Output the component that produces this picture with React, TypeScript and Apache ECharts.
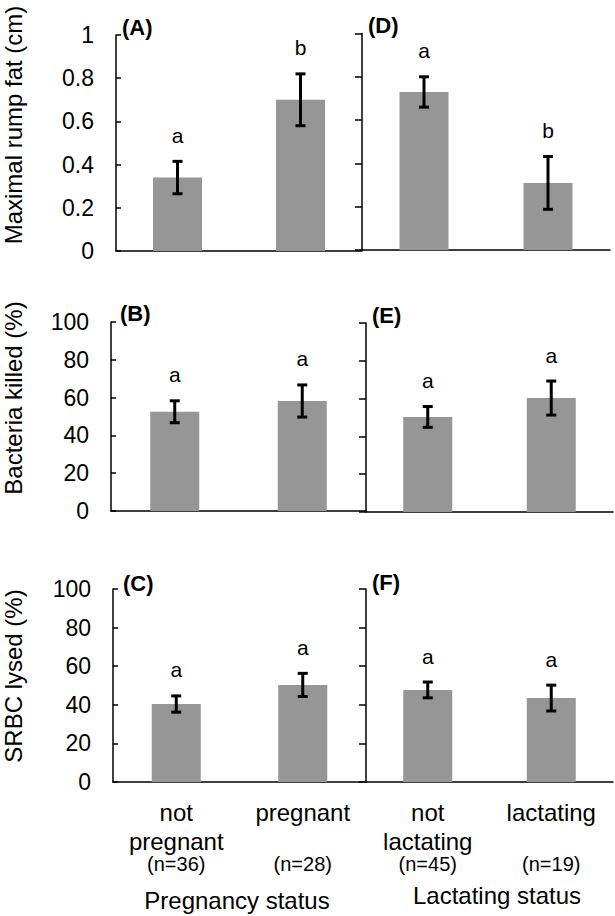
import React, { useEffect, useRef } from "react";
import * as echarts from "echarts";

const FONT = "'Liberation Sans', Arial, Helvetica, sans-serif";

const pregCats = ["not\npregnant", "pregnant"];
const pregN = ["(n=36)", "(n=28)"];
const lactCats = ["not\nlactating", "lactating"];
const lactN = ["(n=45)", "(n=19)"];

// Panel A: maximal rump fat by pregnancy
const fatPregMean = [0.34, 0.70];
const fatPregSE = [0.075, 0.12];
const fatPregLetters = ["a", "b"];
// Panel D: maximal rump fat by lactation
const fatLactMean = [0.73, 0.31];
const fatLactSE = [0.07, 0.122];
const fatLactLetters = ["a", "b"];
// Panel B: bacteria killed by pregnancy
const bactPregMean = [52.5, 58.2];
const bactPregSE = [5.8, 8.5];
const bactPregLetters = ["a", "a"];
// Panel E: bacteria killed by lactation
const bactLactMean = [50.3, 60.3];
const bactLactSE = [5.5, 9.0];
const bactLactLetters = ["a", "a"];
// Panel C: SRBC lysed by pregnancy
const srbcPregMean = [40.4, 50.3];
const srbcPregSE = [4.2, 6.0];
const srbcPregLetters = ["a", "a"];
// Panel F: SRBC lysed by lactation
const srbcLactMean = [47.7, 43.5];
const srbcLactSE = [4.1, 6.7];
const srbcLactLetters = ["a", "a"];

const fatTicks = { min: 0, max: 1, interval: 0.2 };
const pctTicks = { min: 0, max: 100, interval: 20 };

export default function App() {
  const ref = useRef<HTMLDivElement>(null);

  useEffect(() => {
    if (!ref.current) return;
    const chart = echarts.init(ref.current, undefined, { renderer: "svg" });

    const grids = [
      { left: 116, top: 35, width: 246, height: 216 }, // A
      { left: 362, top: 33.5, width: 248, height: 216.5 }, // D
      { left: 111, top: 322, width: 255, height: 189 }, // B
      { left: 366, top: 323, width: 247, height: 189 }, // E
      { left: 113, top: 589, width: 253, height: 193 }, // C
      { left: 366, top: 589, width: 247, height: 193 }, // F
    ];

    const panels = [
      { cats: pregCats, n: pregN, mean: fatPregMean, se: fatPregSE, letters: fatPregLetters, ticks: fatTicks, left: true, bottom: false },
      { cats: lactCats, n: lactN, mean: fatLactMean, se: fatLactSE, letters: fatLactLetters, ticks: fatTicks, left: false, bottom: false },
      { cats: pregCats, n: pregN, mean: bactPregMean, se: bactPregSE, letters: bactPregLetters, ticks: pctTicks, left: true, bottom: false },
      { cats: lactCats, n: lactN, mean: bactLactMean, se: bactLactSE, letters: bactLactLetters, ticks: pctTicks, left: false, bottom: false },
      { cats: pregCats, n: pregN, mean: srbcPregMean, se: srbcPregSE, letters: srbcPregLetters, ticks: pctTicks, left: true, bottom: true },
      { cats: lactCats, n: lactN, mean: srbcLactMean, se: srbcLactSE, letters: srbcLactLetters, ticks: pctTicks, left: false, bottom: true },
    ];

    const xAxis = panels.map((p, i) => ({
      type: "category",
      gridIndex: i,
      data: p.cats,
      axisLine: { lineStyle: { color: "#000", width: 1.5 } },
      axisTick: { show: true, inside: true, alignWithLabel: true, length: 6, lineStyle: { color: "#000", width: 1.5 } },
      axisLabel: {
        show: p.bottom,
        margin: 16,
        interval: 0,
        formatter: (v: string, idx: number) => {
          const lines = v.split("\n");
          while (lines.length < 2) lines.push(" ");
          return lines.map((l) => `{a|${l}}`).join("\n") + `\n{n|${p.n[idx]}}`;
        },
        rich: {
          a: { fontSize: 24, lineHeight: 29, color: "#000", fontFamily: FONT },
          n: { fontSize: 20, lineHeight: 16, color: "#000", fontFamily: FONT },
        },
      },
    }));

    const yAxis = panels.map((p, i) => ({
      type: "value",
      gridIndex: i,
      min: p.ticks.min,
      max: p.ticks.max,
      interval: p.ticks.interval,
      splitLine: { show: false },
      axisLine: { show: true, lineStyle: { color: "#000", width: 1.5 } },
      axisTick: { show: true, inside: p.left, length: p.left ? 5 : 7, lineStyle: { color: "#000", width: 1.5 } },
      axisLabel: { show: p.left, fontSize: 23, color: "#000", fontFamily: FONT, margin: 22 },
    }));

    const series: any[] = [];
    panels.forEach((p, i) => {
      series.push({
        type: "bar",
        xAxisIndex: i,
        yAxisIndex: i,
        data: p.mean,
        barWidth: 49,
        itemStyle: { color: "#969696" },
        silent: true,
      });
      series.push({
        type: "custom",
        xAxisIndex: i,
        yAxisIndex: i,
        data: p.mean.map((m, k) => [k, m, p.se[k], k]),
        z: 5,
        renderItem: (params: any, api: any) => {
          const x = api.value(0);
          const m = api.value(1);
          const s = api.value(2);
          const k = api.value(3);
          const top = api.coord([x, m + s]);
          const bot = api.coord([x, m - s]);
          const cap = 5;
          const ls = { stroke: "#000", lineWidth: 3 };
          return {
            type: "group",
            children: [
              { type: "line", shape: { x1: top[0], y1: top[1], x2: bot[0], y2: bot[1] }, style: ls },
              { type: "line", shape: { x1: top[0] - cap, y1: top[1], x2: top[0] + cap, y2: top[1] }, style: ls },
              { type: "line", shape: { x1: bot[0] - cap, y1: bot[1], x2: bot[0] + cap, y2: bot[1] }, style: ls },
              {
                type: "text",
                x: top[0],
                y: top[1] - 26,
                style: {
                  text: p.letters[k],
                  fontSize: 21,
                  fontFamily: FONT,
                  fill: "#000",
                  align: "center",
                  verticalAlign: "middle",
                },
              },
            ],
          };
        },
      });
    });

    const panelLabels = [
      { t: "(A)", x: 122, y: 27 },
      { t: "(D)", x: 368, y: 25 },
      { t: "(B)", x: 120, y: 313 },
      { t: "(E)", x: 372, y: 315 },
      { t: "(C)", x: 123, y: 583 },
      { t: "(F)", x: 372, y: 582 },
    ];

    const yNames = [
      { t: "Maximal rump fat (cm)", y: 125 },
      { t: "Bacteria killed (%)", y: 398 },
      { t: "SRBC lysed (%)", y: 676 },
    ];

    const graphic: any[] = [
      ...panelLabels.map((l) => ({
        type: "text",
        x: l.x,
        y: l.y,
        style: { text: l.t, fontSize: 22, fontWeight: "bold", fontFamily: FONT, fill: "#000", align: "left", verticalAlign: "middle" },
      })),
      ...yNames.map((n) => ({
        type: "text",
        x: 13,
        y: n.y,
        rotation: Math.PI / 2,
        style: { text: n.t, fontSize: 24, fontFamily: FONT, fill: "#000", align: "center", verticalAlign: "middle" },
      })),
      {
        type: "text",
        x: 237,
        y: 900,
        style: { text: "Pregnancy status", fontSize: 24, fontFamily: FONT, fill: "#000", align: "center", verticalAlign: "middle" },
      },
      {
        type: "text",
        x: 497,
        y: 895,
        style: { text: "Lactating status", fontSize: 24, fontFamily: FONT, fill: "#000", align: "center", verticalAlign: "middle" },
      },
    ];

    chart.setOption({
      animation: false,
      backgroundColor: "#fff",
      grid: grids.map((g) => ({ ...g, containLabel: false })),
      xAxis,
      yAxis,
      series,
      graphic,
    } as any);

    return () => chart.dispose();
  }, []);

  return <div ref={ref} style={{ position: "absolute", left: 0, top: 0, width: 615, height: 916 }} />;
}
